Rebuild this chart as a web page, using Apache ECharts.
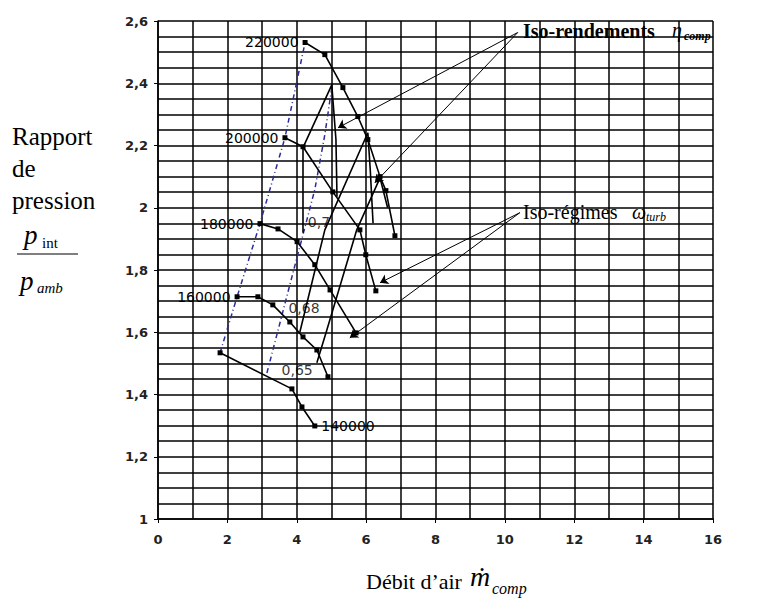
<!DOCTYPE html>
<html>
<head>
<meta charset="utf-8">
<script src="https://cdn.jsdelivr.net/npm/echarts@6/dist/echarts.min.js"></script>
<style>
  html, body { margin: 0; padding: 0; background: #fff; }
  #chart { width: 766px; height: 610px; }
</style>
</head>
<body>
<div id="chart"></div>
<script>
// axes
var xTicks = [0, 2, 4, 6, 8, 10, 12, 14, 16];
var yTicks = [1, 1.2, 1.4, 1.6, 1.8, 2, 2.2, 2.4, 2.6];

// iso-régimes (tr/min) : débit, rapport de pression
var speedNames = ['140000', '160000', '180000', '200000', '220000'];
var speed140 = [[1.79, 1.534], [3.86, 1.418], [4.15, 1.36], [4.52, 1.299]];
var speed160 = [[2.28, 1.714], [2.88, 1.714], [3.31, 1.688], [3.80, 1.633], [4.18, 1.585], [4.58, 1.543], [4.90, 1.457]];
var speed180 = [[2.94, 1.949], [3.46, 1.932], [4.01, 1.891], [4.52, 1.817], [4.96, 1.736], [5.71, 1.598]];
var speed200 = [[3.66, 2.225], [4.18, 2.196], [5.04, 2.051], [5.82, 1.929], [5.99, 1.849], [6.28, 1.733]];
var speed220 = [[4.24, 2.531], [4.81, 2.492], [5.33, 2.386], [5.76, 2.293], [6.05, 2.219], [6.40, 2.100], [6.57, 2.055], [6.83, 1.910]];

// lignes de pompage (pointillés bleus)
var surgeA = [[1.79, 1.534], [2.28, 1.714], [2.94, 1.949], [3.66, 2.225], [4.24, 2.531]];
var surgeB = [[3.14, 1.469], [3.80, 1.752], [4.24, 1.939], [4.52, 2.058], [4.81, 2.235], [5.01, 2.386]];

// iso-rendements
var eff70 = [[4.18, 1.92], [4.18, 2.193], [5.01, 2.395], [5.13, 2.219], [5.16, 2.035]];
var eff68 = [[4.09, 1.601], [4.81, 1.929], [6.05, 2.241], [6.12, 2.12], [6.2, 1.95]];
var eff65 = [[4.58, 1.502], [4.87, 1.608], [5.73, 1.929], [6.40, 2.096], [6.62, 2.0]];
var effLabels = [['0,7', 4.64, 1.955], ['0,68', 4.21, 1.678], ['0,65', 4.01, 1.479]];

// flèches des annotations
var arrowsEff = [[[10.37, 2.563], [5.19, 2.257]], [[10.37, 2.563], [6.25, 2.08]]];
var arrowsSpeed = [[[10.43, 1.984], [6.40, 1.759]], [[10.43, 1.984], [5.53, 1.582]]];

var myChart = echarts.init(document.getElementById('chart'), null, { renderer: 'svg' });

function fmt(v) {
  return String(+v.toFixed(1)).replace('.', ',');
}

function speedSeries(data, name, labelAtEnd) {
  var pts = data.map(function (p, i) {
    var item = { value: p };
    if ((!labelAtEnd && i === 0) || (labelAtEnd && i === data.length - 1)) {
      item.label = {
        show: true,
        position: labelAtEnd ? 'right' : 'left',
        distance: 4,
        formatter: name,
        color: '#000',
        fontFamily: 'DejaVu Sans',
        fontSize: 14
      };
    }
    return item;
  });
  return {
    type: 'line',
    data: pts,
    symbol: 'rect',
    symbolSize: 5,
    itemStyle: { color: '#000' },
    lineStyle: { color: '#000', width: 1.6 },
    z: 5
  };
}

function plain(data, color, type, width) {
  return {
    type: 'line',
    data: data,
    showSymbol: false,
    symbol: 'none',
    lineStyle: { color: color, width: width, type: type },
    z: 4
  };
}

function arrowSeries(list) {
  return {
    type: 'line',
    data: [],
    markLine: {
      silent: true,
      symbol: ['none', 'arrow'],
      symbolSize: 8,
      label: { show: false },
      lineStyle: { color: '#000', width: 1, type: 'solid' },
      data: list.map(function (a) {
        return [{ coord: a[0] }, { coord: a[1] }];
      })
    }
  };
}

var gridLine = { color: '#000', width: 1.5 };
var serif = 'Liberation Serif';

var option = {
  animation: false,
  grid: { left: 158, right: 53, top: 21, bottom: 91 },
  xAxis: {
    type: 'value',
    min: xTicks[0],
    max: xTicks[xTicks.length - 1],
    interval: 2,
    axisLine: { lineStyle: { color: '#000', width: 1.5 } },
    axisTick: { show: true, length: 4, lineStyle: { color: '#000' } },
    minorTick: { show: false, splitNumber: 2 },
    splitLine: { show: true, lineStyle: gridLine },
    minorSplitLine: { show: true, lineStyle: gridLine },
    axisLabel: { color: '#222', fontFamily: 'DejaVu Sans', fontSize: 13, fontWeight: 'bold', margin: 14 }
  },
  yAxis: {
    type: 'value',
    min: yTicks[0],
    max: yTicks[yTicks.length - 1],
    interval: 0.2,
    axisLine: { show: true, lineStyle: { color: '#000', width: 1.5 } },
    axisTick: { show: true, length: 4, lineStyle: { color: '#000' } },
    minorTick: { show: false, splitNumber: 4 },
    splitLine: { show: true, lineStyle: gridLine },
    minorSplitLine: { show: true, lineStyle: gridLine },
    axisLabel: { color: '#222', fontFamily: 'DejaVu Sans', fontSize: 13, fontWeight: 'bold', margin: 10, formatter: fmt }
  },
  series: [
    plain(surgeA, '#2b2b9a', [5, 3, 1, 3], 1.5),
    plain(surgeB, '#2b2b9a', [5, 3, 1, 3], 1.5),
    plain(eff70, '#000', 'solid', 1.6),
    plain(eff68, '#000', 'solid', 1.6),
    plain(eff65, '#000', 'solid', 1.6),
    speedSeries(speed140, speedNames[0], true),
    speedSeries(speed160, speedNames[1], false),
    speedSeries(speed180, speedNames[2], false),
    speedSeries(speed200, speedNames[3], false),
    speedSeries(speed220, speedNames[4], false),
    {
      type: 'scatter',
      symbolSize: 0,
      data: effLabels.map(function (d) { return { name: d[0], value: [d[1], d[2]] }; }),
      label: {
        show: true,
        position: 'inside',
        formatter: '{b}',
        color: '#000',
        fontFamily: 'DejaVu Sans',
        fontSize: 14
      },
      z: 6
    },
    arrowSeries(arrowsEff),
    arrowSeries(arrowsSpeed)
  ],
  graphic: [
    // titre axe y
    { type: 'text', left: 12, top: 120, style: { text: 'Rapport\nde\npression', font: '25px ' + serif, fill: '#000', lineHeight: 32 } },
    { type: 'text', left: 24, top: 221, style: { text: 'p', font: 'italic 27px ' + serif, fill: '#000' } },
    { type: 'text', left: 42, top: 235, style: { text: 'int', font: '15px ' + serif, fill: '#000' } },
    { type: 'line', shape: { x1: 17, y1: 254, x2: 78, y2: 254 }, style: { stroke: '#000', lineWidth: 1.2 } },
    { type: 'text', left: 20, top: 267, style: { text: 'p', font: 'italic 27px ' + serif, fill: '#000' } },
    { type: 'text', left: 37, top: 280, style: { text: 'amb', font: 'italic 15px ' + serif, fill: '#000' } },
    // titre axe x
    { type: 'text', left: 366, top: 570, style: { text: 'Débit d’air', font: '22px ' + serif, fill: '#000' } },
    { type: 'text', left: 470, top: 562, style: { text: 'ṁ', font: 'italic 28px ' + serif, fill: '#000' } },
    { type: 'text', left: 492, top: 580, style: { text: 'comp', font: 'italic 16px ' + serif, fill: '#000' } },
    // annotations
    { type: 'text', left: 523, top: 21, style: { text: 'Iso-rendements', font: 'bold 20px ' + serif, fill: '#000' } },
    { type: 'text', left: 672, top: 20, style: { text: 'η', font: 'italic 20px ' + serif, fill: '#000' } },
    { type: 'text', left: 684, top: 30, style: { text: 'comp', font: 'italic bold 12px ' + serif, fill: '#000' } },
    { type: 'text', left: 523, top: 202, style: { text: 'Iso-régimes', font: '20px ' + serif, fill: '#000' } },
    { type: 'text', left: 632, top: 202, style: { text: 'ω', font: 'italic 20px ' + serif, fill: '#000' } },
    { type: 'text', left: 646, top: 211, style: { text: 'turb', font: 'italic 12px ' + serif, fill: '#000' } }
  ]
};

myChart.setOption(option);
</script>
</body>
</html>
